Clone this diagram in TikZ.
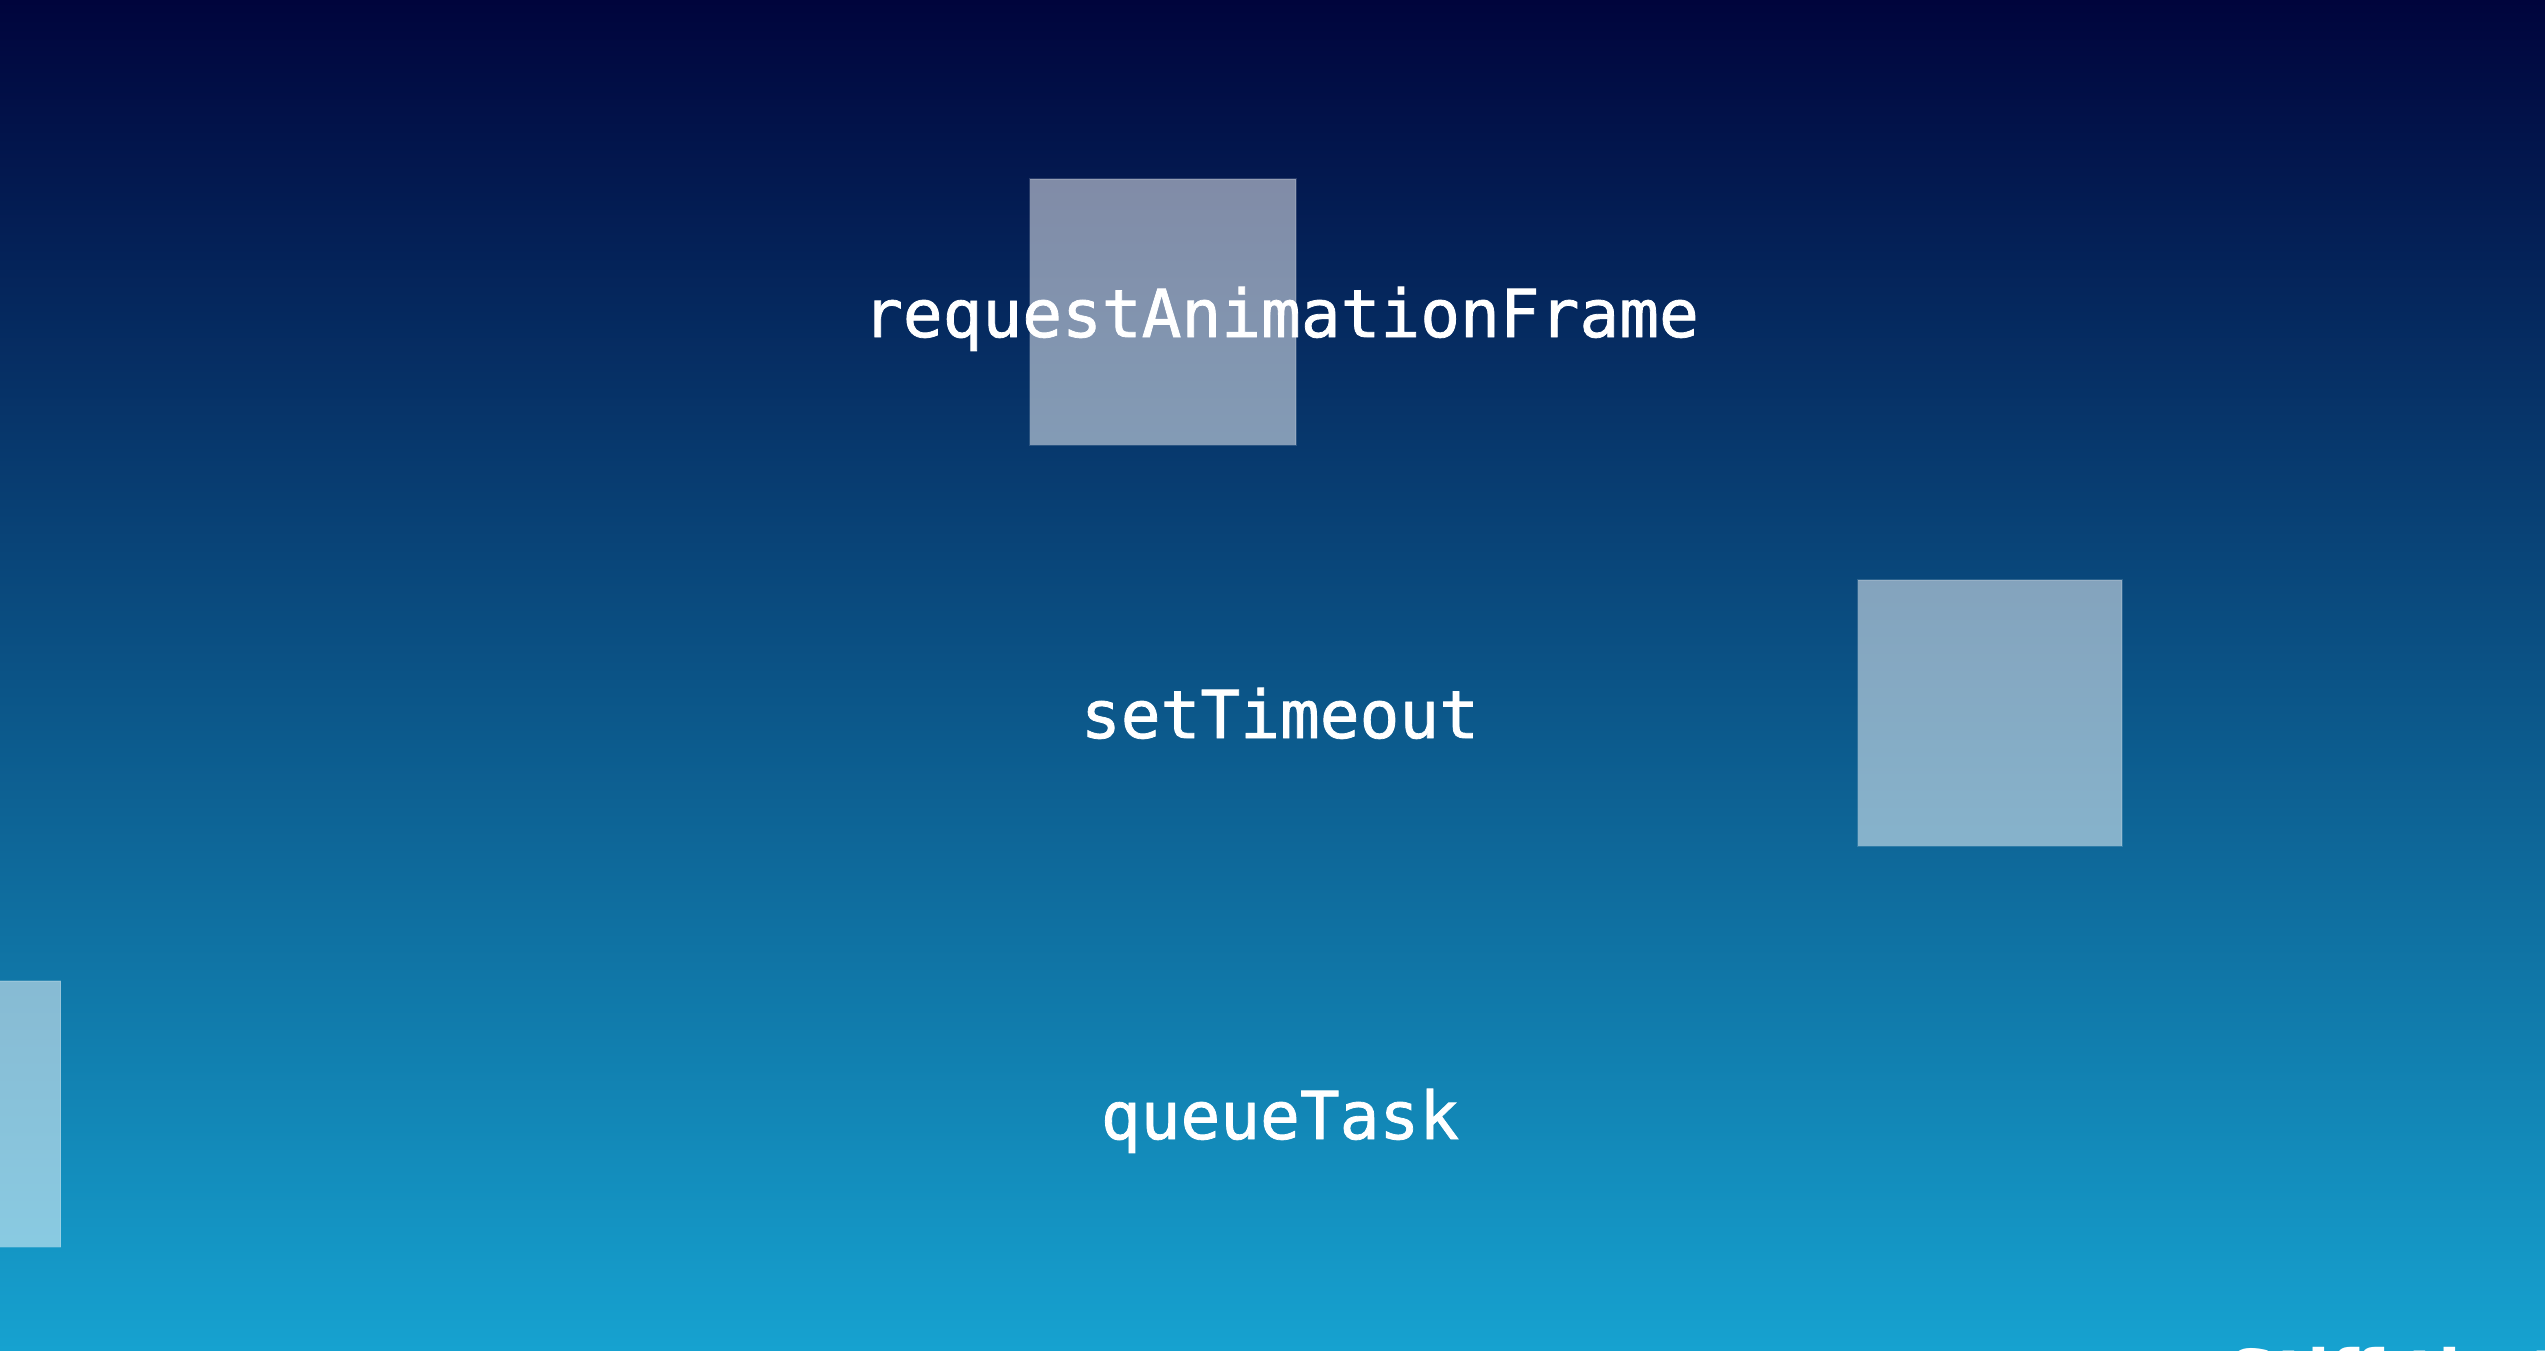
\documentclass[tikz,border=0pt]{standalone}
\usepackage{fontspec}
\newfontfamily\codefont[FakeBold=1.2]{DejaVu Sans Mono}
\newfontfamily\slidesans{DejaVu Sans}
\definecolor{bgtop}{RGB}{0,4,60}
\definecolor{bgmid}{RGB}{9,84,145}
\definecolor{bgbot}{RGB}{22,162,208}
\tikzset{
  glass/.style={fill=white, fill opacity=0.5, draw=white, draw opacity=0.15, line width=0.4pt, inner sep=0pt, anchor=south west},
  label/.style={text=white, font=\codefont\fontsize{18.8}{22}\selectfont, anchor=base, inner sep=0pt}
}
\begin{document}
\begin{tikzpicture}[x=0.01cm,y=0.01cm]
\useasboundingbox (0,0) rectangle (2545,1350);
\clip (0,0) rectangle (2545,1350);
\shade[top color=bgtop, middle color=bgmid, bottom color=bgbot] (0,0) rectangle (2545,1350);
\node[glass, minimum width=2.66cm, minimum height=2.66cm] (boxA) at (1029,904) {};
\node[glass, minimum width=2.64cm, minimum height=2.66cm] (boxB) at (1857,503) {};
\node[glass, minimum width=0.66cm, minimum height=2.66cm] (boxC) at (-6,102) {};
\node[label] (raf) at (1281,1013) {requestAnimationFrame};
\node[label] (st) at (1280,612) {setTimeout};
\node[label] (qt) at (1280,211) {queueTask};
\node[text=white, font=\slidesans\bfseries\fontsize{18.8}{22}\selectfont, anchor=base west, inner sep=0pt] (foot) at (2228,-47) {Stiff that makes};
\end{tikzpicture}
\end{document}
